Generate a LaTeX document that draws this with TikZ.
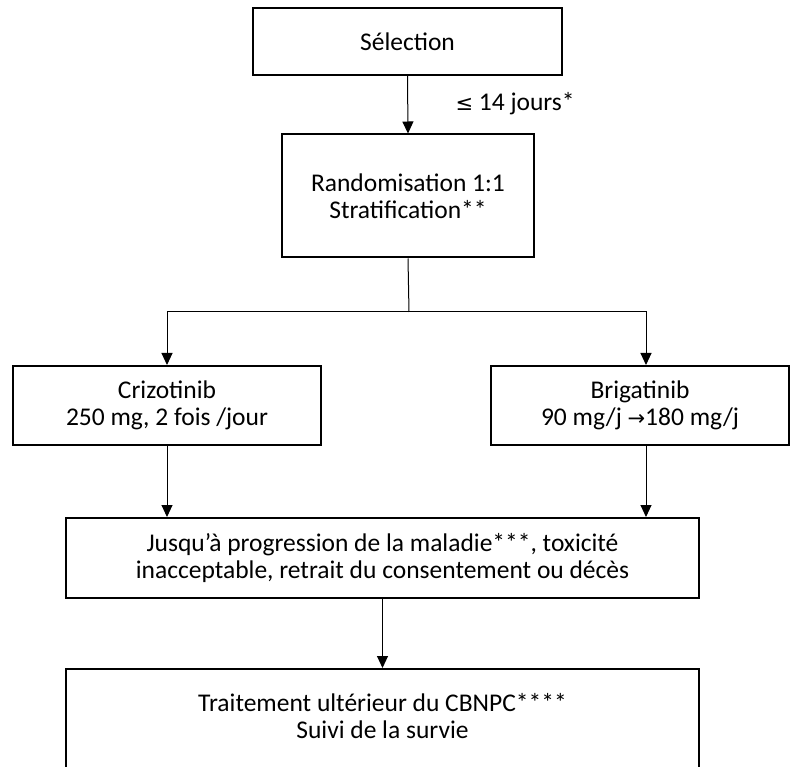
\documentclass[tikz,border=0pt]{standalone}
\usepackage{fontspec}
\setmainfont{Carlito}
\newfontfamily\symbfont{DejaVu Sans}
\usetikzlibrary{arrows.meta}

\tikzset{
  boite/.style={draw=black,line width=2pt,align=center,inner sep=0pt,
    font=\fontsize{25.5}{27}\selectfont},
  fleche/.style={line width=1pt,-{Triangle[width=11pt,length=12pt]}},
  trait/.style={line width=1pt}
}

\begin{document}
\begin{tikzpicture}[x=1pt,y=-1pt]
\useasboundingbox (0,0) rectangle (790,767);
\clip (0,0) rectangle (790,767);
\node[boite,minimum width=309pt,minimum height=67pt] (selection) at (407.5,41.5) {Sélection};
\node[boite,minimum width=252pt,minimum height=123pt] (rando) at (408,196) {Randomisation 1:1\\Stratification**};
\node[anchor=west,font=\fontsize{25.5}{27}\selectfont] (delai) at (452,104) {{\symbfont\fontsize{21}{26}\selectfont ≤} 14 jours*};
\node[boite,minimum width=308pt,minimum height=79pt] (crizo) at (167,405.5) {Crizotinib\\250 mg, 2 fois /jour};
\node[boite,minimum width=298pt,minimum height=79pt] (briga) at (640,405.5) {Brigatinib\\90 mg/j {\symbfont\fontsize{21}{26}\selectfont →}180 mg/j};
\node[boite,minimum width=633pt,minimum height=80pt] (jusqua) at (382.5,558) {Jusqu’à progression de la maladie***, toxicité\\inacceptable, retrait du consentement ou décès};
\node[boite,minimum width=633pt,minimum height=120pt,anchor=north] (suivi) at (382.5,668) {Traitement ultérieur du CBNPC****\\Suivi de la survie\\\mbox{}};
\coordinate (embr) at (409,312);
\draw[fleche] (selection.south) -- (rando.north);
\draw[trait] (rando.south) -- (embr);
\draw[fleche] (embr) -| (crizo.north);
\draw[fleche] (embr) -| ([xshift=6pt]briga.north);
\draw[fleche] (crizo.south) -- (crizo.south |- jusqua.north);
\draw[fleche] ([xshift=6pt]briga.south) -- ([xshift=6pt]briga.south |- jusqua.north);
\draw[fleche] (jusqua.south) -- (suivi.north);
\end{tikzpicture}
\end{document}
